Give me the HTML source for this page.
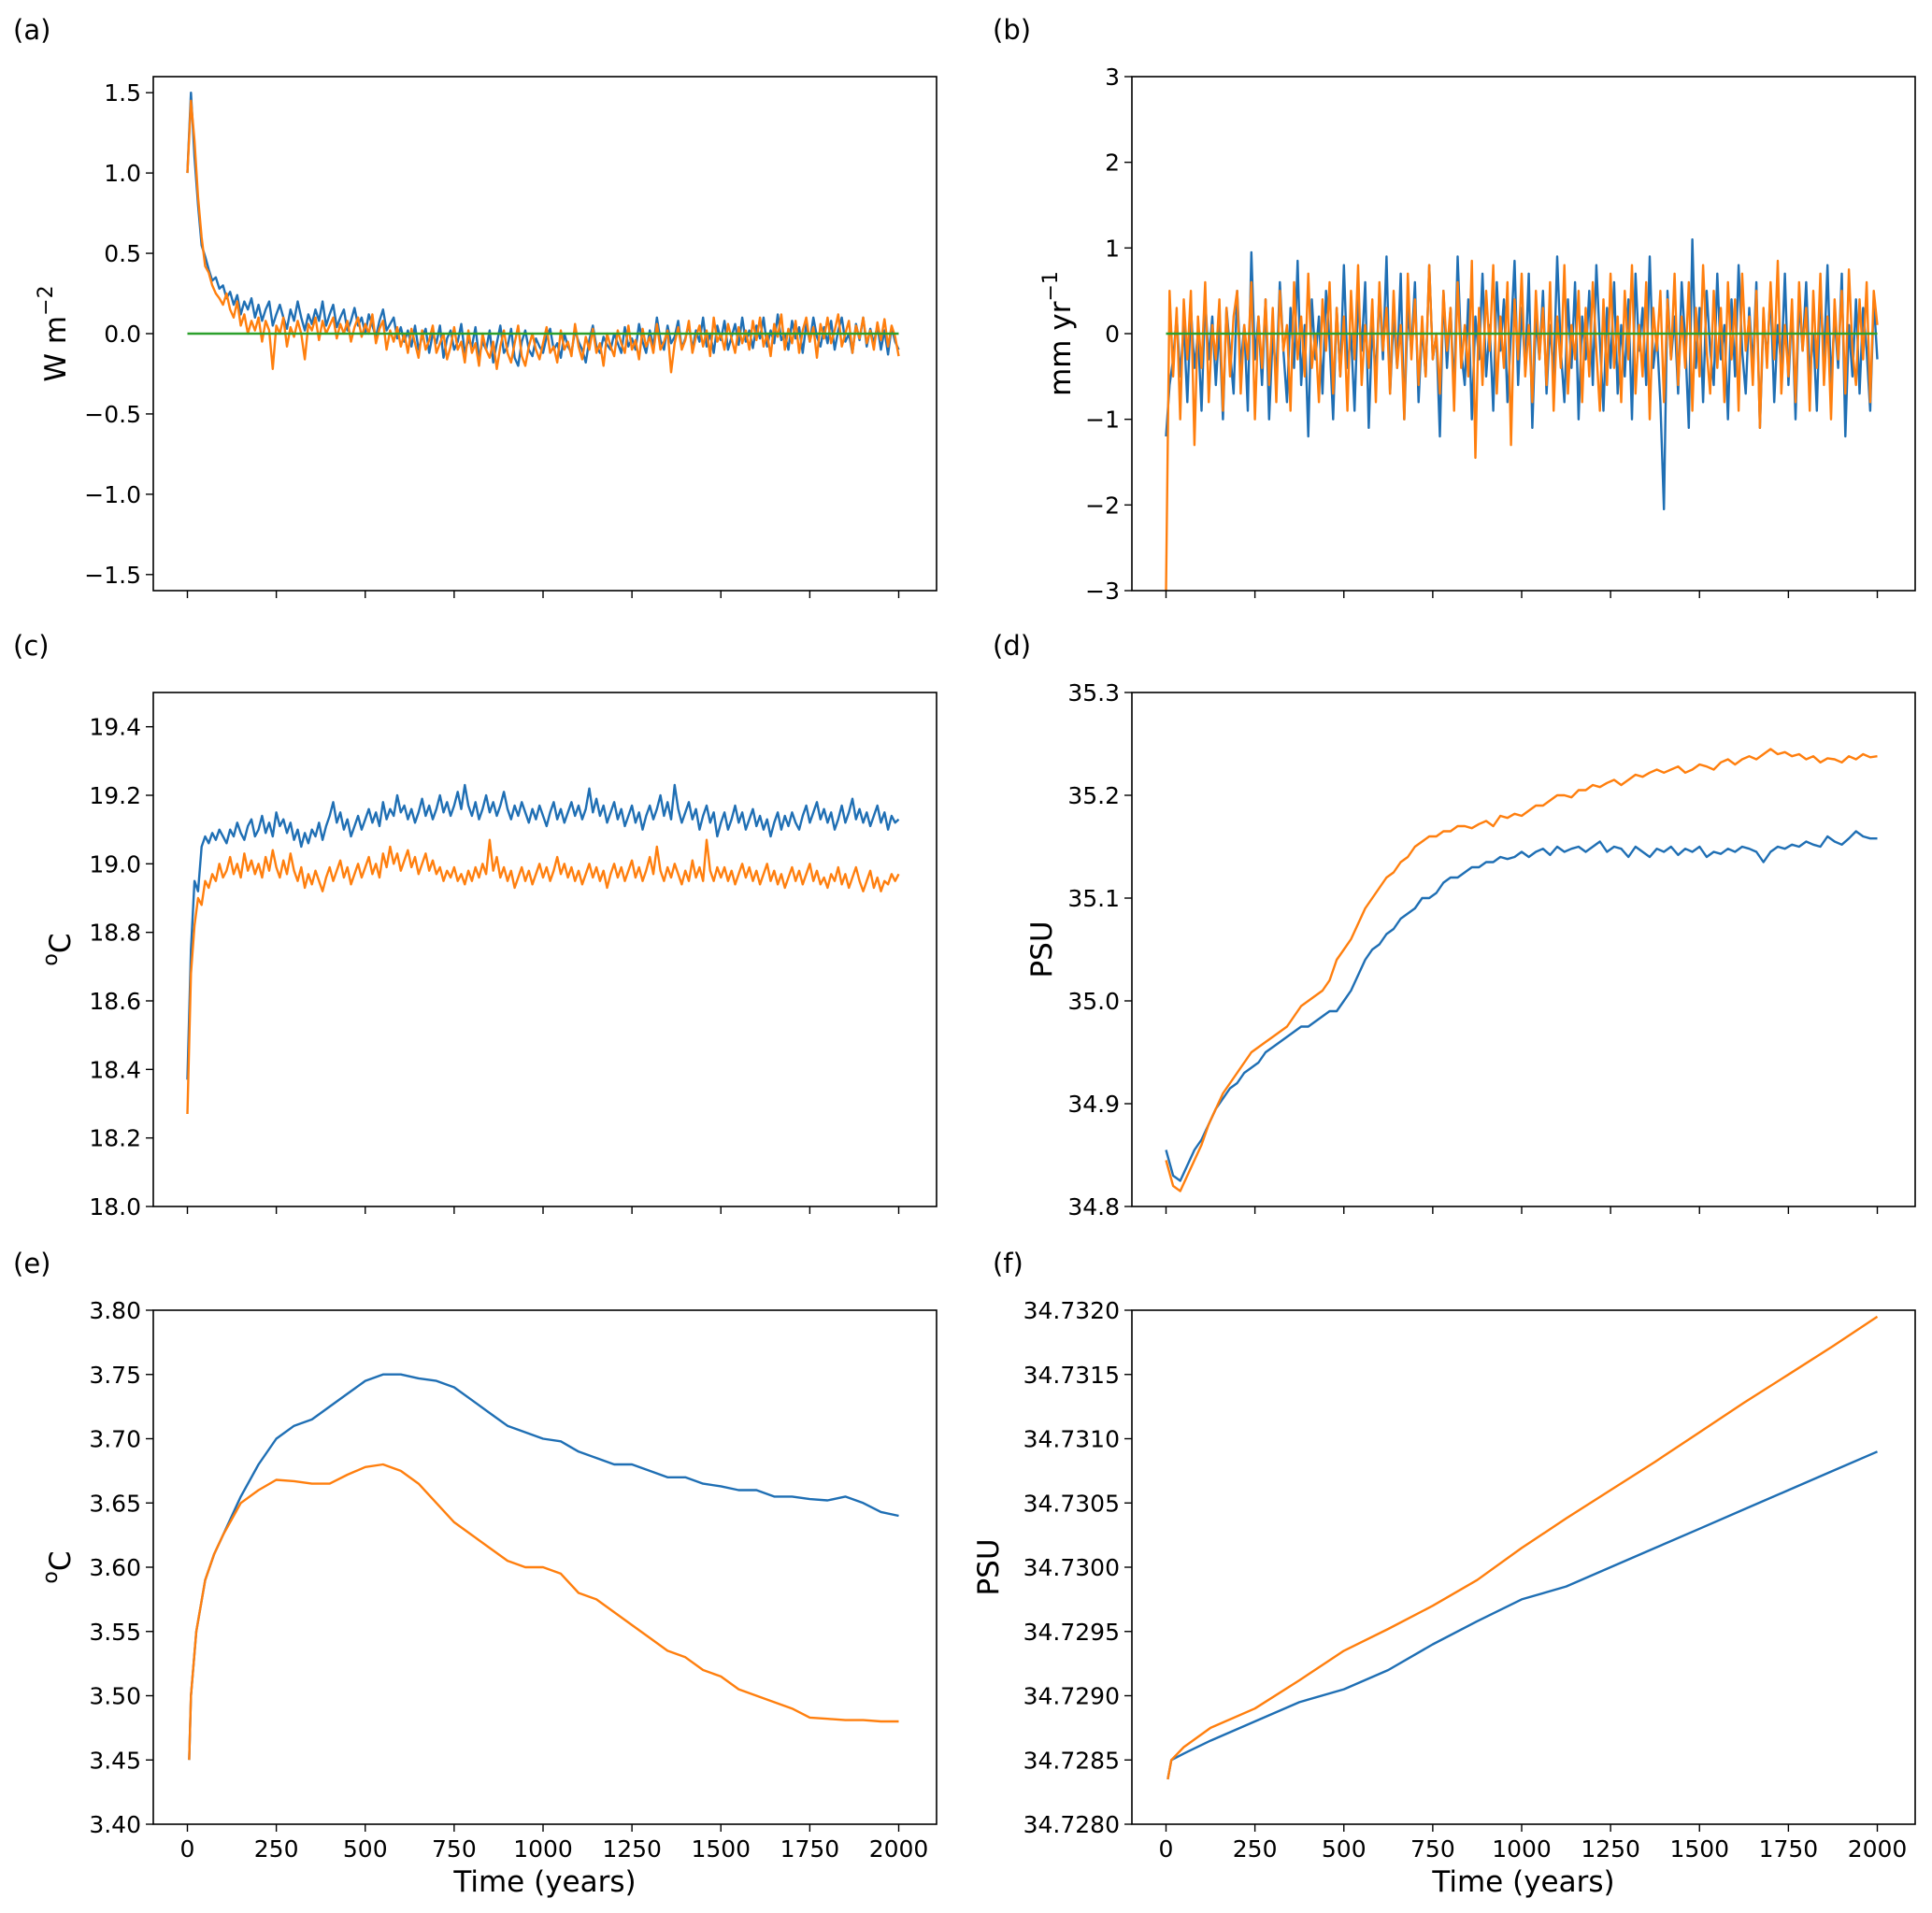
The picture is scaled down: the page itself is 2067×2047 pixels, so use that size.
<!DOCTYPE html>
<html><head><meta charset="utf-8"><style>
html,body{margin:0;padding:0;background:#fff;}
svg{display:block;font-family:"DejaVu Sans","Liberation Sans",sans-serif;}
</style></head><body>
<svg id="fig" width="2067" height="2047" viewBox="0 0 2067 2047" xmlns="http://www.w3.org/2000/svg"></svg>
<script>
// ---------- data ----------
const tA = Array.from({length:201},(_,i)=>i*10);
const aBlue = [1.0,1.5,1.1,0.8,0.55,0.48,0.4,0.33,0.35,0.28,0.3,0.22,0.26,0.18,0.24,0.12,0.2,0.15,0.22,0.1,
0.18,0.08,0.15,0.2,0.05,0.12,0.18,0.1,0.03,0.15,0.08,0.2,0.1,0.02,0.12,0.06,0.15,0.08,0.2,0.05,
0.12,0.18,0.04,0.1,0.15,0.02,0.08,0.16,0.05,0.1,0.0,0.12,0.05,-0.02,0.08,0.15,0.02,0.06,0.1,-0.03,
0.04,-0.05,0.02,-0.08,0.05,-0.1,-0.02,0.03,-0.12,0.0,-0.06,0.05,-0.15,-0.03,0.02,-0.1,-0.05,0.06,-0.12,-0.04,
-0.08,0.04,-0.15,-0.05,-0.1,0.02,-0.18,-0.06,0.05,-0.12,-0.08,0.03,-0.15,-0.2,-0.05,0.02,-0.1,-0.14,-0.03,-0.08,
-0.12,-0.02,0.03,-0.1,-0.06,-0.15,0.0,-0.08,-0.12,0.02,-0.05,-0.1,-0.18,-0.04,0.05,-0.08,-0.12,-0.02,-0.07,-0.1,
0.0,-0.06,-0.12,0.04,-0.08,-0.03,-0.1,0.06,-0.05,-0.12,0.02,-0.08,0.1,-0.04,-0.1,0.05,-0.06,-0.02,0.08,-0.09,
-0.03,0.06,-0.1,0.02,-0.05,0.1,-0.08,0.0,-0.12,0.05,-0.04,0.08,-0.1,-0.02,0.06,-0.07,0.1,-0.05,0.02,-0.09,
0.05,-0.03,0.1,-0.08,0.02,-0.06,0.12,-0.04,0.0,-0.1,0.08,-0.03,0.04,-0.12,0.06,-0.05,0.1,-0.02,-0.08,0.04,
-0.06,0.08,-0.1,0.02,0.1,-0.05,0.0,-0.12,0.06,-0.04,0.1,-0.08,0.03,-0.06,0.05,-0.1,0.02,-0.13,0.04,-0.05,-0.1];
const aOrange = [1.0,1.45,1.2,0.85,0.6,0.42,0.38,0.3,0.25,0.22,0.18,0.25,0.15,0.1,0.2,0.05,0.12,0.0,0.08,0.02,
0.1,-0.05,0.08,0.02,-0.22,0.05,0.0,0.1,-0.08,0.04,-0.02,0.08,0.0,-0.16,0.06,0.02,0.1,-0.04,0.08,0.0,
0.05,0.1,-0.03,0.06,0.0,0.08,-0.05,0.04,0.1,-0.02,0.06,0.0,0.12,-0.06,0.03,0.08,-0.1,0.02,-0.05,0.04,
-0.08,0.0,-0.12,0.03,-0.06,-0.15,0.02,-0.1,-0.04,0.05,-0.12,-0.06,0.0,-0.16,-0.08,0.04,-0.1,-0.05,-0.18,0.02,
-0.12,-0.06,-0.2,0.0,-0.1,-0.15,-0.05,-0.22,-0.08,0.02,-0.12,-0.18,-0.06,0.05,-0.14,-0.2,-0.08,0.0,-0.1,-0.16,
-0.06,0.04,-0.12,-0.08,-0.18,0.02,-0.1,-0.05,-0.14,0.06,-0.08,-0.16,-0.02,-0.1,0.03,-0.12,-0.06,-0.2,0.0,-0.08,
-0.14,0.02,-0.06,-0.12,0.05,-0.1,-0.04,-0.16,0.03,-0.08,-0.02,-0.12,0.06,-0.1,-0.05,0.02,-0.24,-0.06,0.04,-0.1,
-0.04,0.08,-0.12,-0.02,0.05,-0.08,0.02,-0.14,0.1,-0.05,0.0,-0.1,0.06,-0.03,-0.12,0.04,-0.06,0.02,-0.1,0.08,
-0.04,0.1,-0.08,0.0,-0.14,0.06,-0.02,0.12,-0.1,0.03,-0.06,0.08,-0.12,0.02,0.1,-0.05,0.04,-0.15,0.06,-0.03,
0.1,-0.06,0.02,0.12,-0.08,0.0,0.08,-0.12,0.05,-0.03,0.1,-0.06,0.02,-0.1,0.07,-0.04,0.09,-0.08,0.05,-0.02,-0.14];
const bBlue = [-1.2,-0.6,-0.3,0.2,-0.5,0.1,-0.8,0.3,-0.4,0.0,
-0.9,0.4,-0.3,0.2,-0.6,0.1,-1.0,0.3,-0.2,-0.7,
0.5,-0.4,0.1,-0.9,0.95,-0.3,0.2,-0.6,0.4,-1.0,
0.0,-0.5,0.6,-0.2,-0.8,0.3,-0.4,0.85,-0.6,0.1,
-1.2,0.4,-0.3,0.2,-0.7,0.5,-0.1,-1.0,0.3,-0.5,
0.8,-0.4,0.0,-0.9,0.4,-0.2,0.6,-1.1,0.1,-0.5,
0.5,-0.3,0.9,-0.7,0.2,-0.4,0.7,-1.0,0.3,-0.2,
0.6,-0.8,0.1,-0.5,0.8,-0.3,0.0,-1.2,0.5,-0.4,
0.3,-0.7,0.9,-0.2,-0.6,0.4,-1.0,0.2,-0.3,0.7,
-0.5,0.1,-0.9,0.6,-0.2,0.4,-0.8,0.0,0.85,-0.6,
0.3,-0.4,0.7,-1.1,0.2,-0.3,0.5,-0.7,0.1,-0.5,
0.9,-0.2,-0.8,0.4,-0.4,0.6,-1.0,0.2,-0.3,0.5,
-0.6,0.8,-0.1,-0.9,0.3,-0.4,0.6,-0.7,0.1,-0.5,
0.4,-1.0,0.7,-0.2,0.3,-0.6,0.9,-0.4,0.0,-0.8,
-2.05,0.5,-0.3,0.2,-0.7,0.6,-0.1,-1.1,1.1,-0.4,
0.3,-0.8,0.5,-0.2,-0.6,0.7,-0.3,0.1,-1.0,0.4,
-0.5,0.8,-0.2,-0.7,0.3,-0.4,0.6,-1.1,0.2,-0.3,
0.5,-0.8,0.1,-0.4,0.7,-0.6,0.3,-1.0,0.4,-0.2,
0.6,-0.5,0.0,-0.9,0.5,-0.3,0.8,-0.6,0.2,-0.4,
0.7,-1.2,0.1,-0.5,0.4,-0.7,0.3,-0.2,-0.9,0.4,
-0.3];
const bOrange = [-3.0,0.5,-0.5,0.3,-1.0,0.4,-0.3,0.5,-1.3,0.2,
-0.4,0.6,-0.8,0.1,-0.3,0.4,-0.9,0.3,-0.5,0.2,
0.5,-0.7,0.1,-0.3,0.6,-1.0,0.2,-0.4,0.4,-0.6,
0.3,-0.8,0.5,-0.2,0.1,-0.9,0.6,-0.3,0.2,-0.5,
0.7,-0.4,0.0,-0.8,0.4,-0.2,0.6,-0.7,0.3,-0.5,
0.2,-0.9,0.5,-0.3,0.8,-0.6,0.1,-0.4,0.4,-0.8,
0.6,-0.2,0.3,-0.7,0.5,-0.4,0.1,-1.0,0.7,-0.3,
0.4,-0.6,0.2,-0.5,0.8,-0.3,0.0,-0.7,0.5,-0.2,
0.3,-0.9,0.6,-0.4,0.1,-0.5,0.85,-1.45,0.3,-0.6,
0.5,-0.2,0.8,-0.7,0.2,-0.4,0.6,-1.3,0.4,-0.3,
0.7,-0.5,0.1,-0.8,0.5,-0.3,0.3,-0.6,0.6,-0.9,
0.2,-0.4,0.8,-0.7,0.1,-0.3,0.5,-0.8,0.3,-0.5,
0.6,-0.2,-0.9,0.4,-0.6,0.7,-0.4,0.2,-0.8,0.5,
-0.3,0.8,-0.7,0.1,-0.5,0.6,-1.0,0.3,-0.2,0.5,
-0.8,0.4,-0.3,0.7,-0.6,0.2,-0.4,0.6,-0.9,0.3,
-0.5,0.8,-0.2,-0.7,0.5,-0.4,0.3,-0.8,0.6,-0.3,
0.4,-0.9,0.7,-0.2,0.2,-0.6,0.5,-1.1,0.3,-0.4,
0.6,-0.3,0.85,-0.7,0.1,-0.5,0.4,-0.8,0.6,-0.2,
0.3,-0.9,0.5,-0.4,0.7,-0.6,0.2,-1.0,0.4,-0.3,
0.5,-0.7,0.75,-0.2,-0.6,0.4,-0.3,0.6,-0.8,0.5,
0.1];
const cBlue = [18.37,18.75,18.95,18.92,19.05,19.08,19.06,19.09,19.07,19.1,
19.08,19.06,19.1,19.08,19.12,19.09,19.07,19.11,19.13,19.08,
19.1,19.14,19.09,19.12,19.08,19.15,19.11,19.13,19.09,19.12,
19.07,19.1,19.05,19.09,19.06,19.1,19.08,19.12,19.07,19.11,
19.14,19.18,19.12,19.15,19.1,19.13,19.08,19.11,19.14,19.1,
19.13,19.16,19.12,19.15,19.11,19.18,19.13,19.16,19.14,19.2,
19.15,19.17,19.13,19.16,19.12,19.15,19.19,19.14,19.17,19.13,
19.16,19.2,19.15,19.18,19.14,19.17,19.21,19.16,19.23,19.17,
19.14,19.18,19.13,19.16,19.2,19.15,19.18,19.14,19.17,19.21,
19.16,19.13,19.17,19.14,19.18,19.15,19.12,19.16,19.13,19.17,
19.14,19.11,19.15,19.18,19.13,19.16,19.12,19.15,19.18,19.14,
19.17,19.13,19.16,19.22,19.15,19.19,19.14,19.17,19.12,19.15,
19.18,19.13,19.16,19.11,19.14,19.17,19.12,19.15,19.1,19.14,
19.17,19.13,19.16,19.2,19.14,19.18,19.13,19.23,19.16,19.12,
19.15,19.18,19.13,19.16,19.1,19.14,19.17,19.12,19.15,19.08,
19.12,19.15,19.1,19.13,19.17,19.12,19.15,19.1,19.13,19.16,
19.11,19.14,19.1,19.13,19.08,19.12,19.15,19.1,19.14,19.11,
19.15,19.12,19.1,19.14,19.17,19.12,19.15,19.18,19.13,19.16,
19.12,19.15,19.1,19.13,19.17,19.12,19.15,19.19,19.13,19.16,
19.12,19.15,19.11,19.14,19.17,19.12,19.15,19.1,19.14,19.12,
19.13];
const cOrange = [18.27,18.68,18.82,18.9,18.88,18.95,18.93,18.97,18.95,19.0,
18.96,18.98,19.02,18.97,19.0,18.96,19.03,18.98,19.01,18.97,
19.0,18.96,19.02,18.98,19.04,18.99,18.96,19.01,18.97,19.03,
18.98,18.95,18.99,18.93,18.97,18.94,18.98,18.95,18.92,18.96,
18.99,18.95,18.98,19.01,18.96,18.99,18.94,18.97,19.0,18.96,
18.99,19.02,18.97,19.0,18.96,19.03,18.99,19.05,19.0,19.03,
18.98,19.01,19.04,18.99,19.02,18.97,19.0,19.03,18.98,19.01,
18.97,18.99,18.95,18.98,18.96,18.99,18.95,18.97,18.94,18.98,
18.95,18.99,18.96,19.0,18.97,19.07,18.98,19.02,18.96,18.99,
18.95,18.98,18.93,18.96,18.99,18.95,18.98,18.94,18.97,19.0,
18.96,18.99,18.95,18.98,19.02,18.97,19.0,18.96,18.99,18.95,
18.98,18.94,18.97,19.0,18.96,18.99,18.95,18.98,18.93,18.97,
19.0,18.96,18.99,18.95,18.98,19.01,18.96,18.99,18.95,18.98,
19.02,18.97,19.05,18.98,18.95,18.99,18.96,19.0,18.97,18.94,
18.98,18.95,19.01,18.96,18.99,18.95,19.07,18.98,18.95,18.99,
18.96,18.99,18.95,18.98,18.94,18.97,19.0,18.96,18.99,18.95,
18.98,18.94,18.97,19.0,18.95,18.98,18.94,18.97,18.93,18.96,
18.99,18.95,18.98,18.94,18.97,19.0,18.95,18.98,18.94,18.96,
18.93,18.97,18.95,18.99,18.94,18.97,18.93,18.96,18.99,18.95,
18.92,18.95,18.98,18.93,18.96,18.92,18.95,18.94,18.97,18.95,
18.97];
const tD = Array.from({length:101},(_,i)=>i*20);
const dBlue = [34.855,34.83,34.825,34.84,34.855,34.865,34.88,34.895,34.905,34.915,
34.92,34.93,34.935,34.94,34.95,34.955,34.96,34.965,34.97,34.975,
34.975,34.98,34.985,34.99,34.99,35.0,35.01,35.025,35.04,35.05,
35.055,35.065,35.07,35.08,35.085,35.09,35.1,35.1,35.105,35.115,
35.12,35.12,35.125,35.13,35.13,35.135,35.135,35.14,35.138,35.14,
35.145,35.14,35.145,35.148,35.142,35.15,35.145,35.148,35.15,35.145,
35.15,35.155,35.145,35.15,35.148,35.14,35.15,35.145,35.14,35.148,
35.145,35.15,35.142,35.148,35.145,35.15,35.14,35.145,35.143,35.148,
35.145,35.15,35.148,35.145,35.135,35.145,35.15,35.148,35.152,35.15,
35.155,35.152,35.15,35.16,35.155,35.152,35.158,35.165,35.16,35.158,
35.158];
const dOrange = [34.845,34.82,34.815,34.83,34.845,34.86,34.88,34.895,34.91,34.92,
34.93,34.94,34.95,34.955,34.96,34.965,34.97,34.975,34.985,34.995,
35.0,35.005,35.01,35.02,35.04,35.05,35.06,35.075,35.09,35.1,
35.11,35.12,35.125,35.135,35.14,35.15,35.155,35.16,35.16,35.165,
35.165,35.17,35.17,35.168,35.172,35.175,35.17,35.18,35.178,35.182,
35.18,35.185,35.19,35.19,35.195,35.2,35.2,35.198,35.205,35.205,
35.21,35.208,35.212,35.215,35.21,35.215,35.22,35.218,35.222,35.225,
35.222,35.225,35.228,35.222,35.225,35.23,35.228,35.225,35.232,35.235,
35.23,35.235,35.238,35.235,35.24,35.245,35.24,35.242,35.238,35.24,
35.235,35.238,35.232,35.236,35.235,35.232,35.238,35.235,35.24,35.237,
35.238];
const tE = [5,10,25,50,75,100,150,200,250,300,350,400,450,500,550,600,650,700,750,800,850,900,950,1000,1050,1100,1150,1200,1250,1300,1350,1400,1450,1500,1550,1600,1650,1700,1750,1800,1850,1900,1950,2000];
const eBlue = [3.45,3.5,3.55,3.59,3.61,3.625,3.655,3.68,3.7,3.71,3.715,3.725,3.735,3.745,3.75,3.75,3.747,3.745,3.74,3.73,3.72,3.71,3.705,3.7,3.698,3.69,3.685,3.68,3.68,3.675,3.67,3.67,3.665,3.663,3.66,3.66,3.655,3.655,3.653,3.652,3.655,3.65,3.643,3.64];
const eOrange = [3.45,3.5,3.55,3.59,3.61,3.625,3.65,3.66,3.668,3.667,3.665,3.665,3.672,3.678,3.68,3.675,3.665,3.65,3.635,3.625,3.615,3.605,3.6,3.6,3.595,3.58,3.575,3.565,3.555,3.545,3.535,3.53,3.52,3.515,3.505,3.5,3.495,3.49,3.483,3.482,3.481,3.481,3.48,3.48];
const tF = [5,15,50,125,250,375,500,625,750,875,1000,1125,1250,1375,1500,1625,1750,1875,2000];
const fBlue = [34.72835,34.7285,34.72855,34.72865,34.7288,34.72895,34.72905,34.7292,34.7294,34.72958,34.72975,34.72985,34.7300,34.73015,34.7303,34.73045,34.7306,34.73075,34.7309];
const fOrange = [34.72835,34.7285,34.7286,34.72875,34.7289,34.72912,34.72935,34.72952,34.7297,34.7299,34.73015,34.73038,34.7306,34.73082,34.73105,34.73128,34.7315,34.73172,34.73195];
const xTicks = [0,250,500,750,1000,1250,1500,1750,2000];
const ticksA = [-1.5,-1.0,-0.5,0.0,0.5,1.0,1.5];
const ticksB = [-3,-2,-1,0,1,2,3];
const ticksC = [18.0,18.2,18.4,18.6,18.8,19.0,19.2,19.4];
const ticksD = [34.8,34.9,35.0,35.1,35.2,35.3];
const ticksE = [3.40,3.45,3.50,3.55,3.60,3.65,3.70,3.75,3.80];
const ticksF = [34.7280,34.7285,34.7290,34.7295,34.7300,34.7305,34.7310,34.7315,34.7320];

// ---------- drawing ----------
const NS = "http://www.w3.org/2000/svg";
const svg = document.getElementById('fig');
const BLUE = "#1f6fb4", ORANGE = "#ff7f0e", GREEN = "#2ca02c";
function el(tag, attrs, parent){ const e=document.createElementNS(NS,tag); for(const k in attrs) e.setAttribute(k,attrs[k]); (parent||svg).appendChild(e); return e; }

function panel(p){
  const g = el('g',{});
  
  
  const W = p.x1 - p.x0, H = p.y1 - p.y0;
  const sx = t => p.x0 + 36.5 + t * 0.3805;
  const sy = v => p.y1 - (v - p.ymin) / (p.ymax - p.ymin) * H;
  const lab = el('text',{x:p.lx, y:p.y0-40, 'font-size':29, fill:'#000'}, g);
  lab.textContent = '(' + p.id + ')';
  
  
  p.series.forEach(s=>{
    const d = s.t.map((t,i)=>(i?'L':'M')+sx(t).toFixed(1)+','+sy(s.v[i]).toFixed(1)).join('');
    const path = el('path',{d:d, fill:'none', stroke:s.c, 'stroke-width':2.4, 'stroke-linejoin':'round'}, g);
    
    
  });
  const fr = el('rect',{x:p.x0, y:p.y0, width:W, height:H, fill:'none', stroke:'#000', 'stroke-width':1.6}, g);
  
  
  p.yt.forEach(v=>{
    const y = sy(v);
    el('line',{x1:p.x0-8, x2:p.x0, y1:y, y2:y, stroke:'#000', 'stroke-width':1.4}, g);
    const tx = el('text',{x:p.x0-13, y:y+9, 'font-size':25, 'text-anchor':'end', fill:'#000'}, g);
    tx.textContent = p.fmt(v);
    
    
  });
  xTicks.forEach(t=>{
    const x = sx(t);
    el('line',{x1:x, x2:x, y1:p.y1, y2:p.y1+8, stroke:'#000', 'stroke-width':1.4}, g);
    if(p.xlabels){
      const tx = el('text',{x:x, y:p.y1+35, 'font-size':25, 'text-anchor':'middle', fill:'#000'}, g);
      tx.textContent = t;
      
      
    }
  });
  if(p.xlabels){
    const xl = el('text',{x:(p.x0+p.x1)/2, y:p.y1+72, 'font-size':31, 'text-anchor':'middle', fill:'#000'}, g);
    xl.textContent = 'Time (years)';
    
    
  }
  const cy = (p.y0+p.y1)/2;
  const yl = el('text',{x:0, y:0, 'font-size':31, 'text-anchor':'middle', fill:'#000', transform:`translate(${p.ylx},${cy}) rotate(-90)`}, g);
  yl.innerHTML = p.ylab;
  
  
}

const L0=164, L1=1002, R0=1211, R1=2049;
const rows=[[82,632],[741,1291],[1402,1952]];
const f1 = v=>v.toFixed(1).replace('-','\u2212');
const f0 = v=>String(v).replace('-','\u2212');
const f2 = v=>v.toFixed(2);
const f4 = v=>v.toFixed(4);
const sup = (b,s)=>`${b}<tspan dy="-14" font-size="22">${s}</tspan>`;

panel({id:'a',x0:L0,x1:L1,y0:rows[0][0],y1:rows[0][1],ymin:-1.6,ymax:1.6,yt:ticksA,fmt:f1,lx:14,ylx:70,
  ylab:sup('W m','\u22122'),
  series:[{t:tA,v:aBlue,c:BLUE,name:'series-a-blue'},{t:tA,v:aOrange,c:ORANGE,name:'series-a-orange'},{t:[0,2000],v:[0,0],c:GREEN,name:'zero-line-a'}]});
panel({id:'b',x0:R0,x1:R1,y0:rows[0][0],y1:rows[0][1],ymin:-3,ymax:3,yt:ticksB,fmt:f0,lx:1062,ylx:1145,
  ylab:sup('mm yr','\u22121'),
  series:[{t:tA,v:bBlue,c:BLUE,name:'series-b-blue'},{t:tA,v:bOrange,c:ORANGE,name:'series-b-orange'},{t:[0,2000],v:[0,0],c:GREEN,name:'zero-line-b'}]});
panel({id:'c',x0:L0,x1:L1,y0:rows[1][0],y1:rows[1][1],ymin:18.0,ymax:19.5,yt:ticksC,fmt:f1,lx:14,ylx:75,
  ylab:sup('','o')+'<tspan dy="14">C</tspan>',
  series:[{t:tA,v:cBlue,c:BLUE,name:'series-c-blue'},{t:tA,v:cOrange,c:ORANGE,name:'series-c-orange'}]});
panel({id:'d',x0:R0,x1:R1,y0:rows[1][0],y1:rows[1][1],ymin:34.8,ymax:35.3,yt:ticksD,fmt:f1,lx:1062,ylx:1125,
  ylab:'PSU',
  series:[{t:tD,v:dBlue,c:BLUE,name:'series-d-blue'},{t:tD,v:dOrange,c:ORANGE,name:'series-d-orange'}]});
panel({id:'e',x0:L0,x1:L1,y0:rows[2][0],y1:rows[2][1],ymin:3.40,ymax:3.80,yt:ticksE,fmt:f2,lx:14,ylx:75,
  ylab:sup('','o')+'<tspan dy="14">C</tspan>', xlabels:true,
  series:[{t:tE,v:eBlue,c:BLUE,name:'series-e-blue'},{t:tE,v:eOrange,c:ORANGE,name:'series-e-orange'}]});
panel({id:'f',x0:R0,x1:R1,y0:rows[2][0],y1:rows[2][1],ymin:34.7280,ymax:34.7320,yt:ticksF,fmt:f4,lx:1062,ylx:1068,
  ylab:'PSU', xlabels:true,
  series:[{t:tF,v:fBlue,c:BLUE,name:'series-f-blue'},{t:tF,v:fOrange,c:ORANGE,name:'series-f-orange'}]});
</script>
</body></html>
